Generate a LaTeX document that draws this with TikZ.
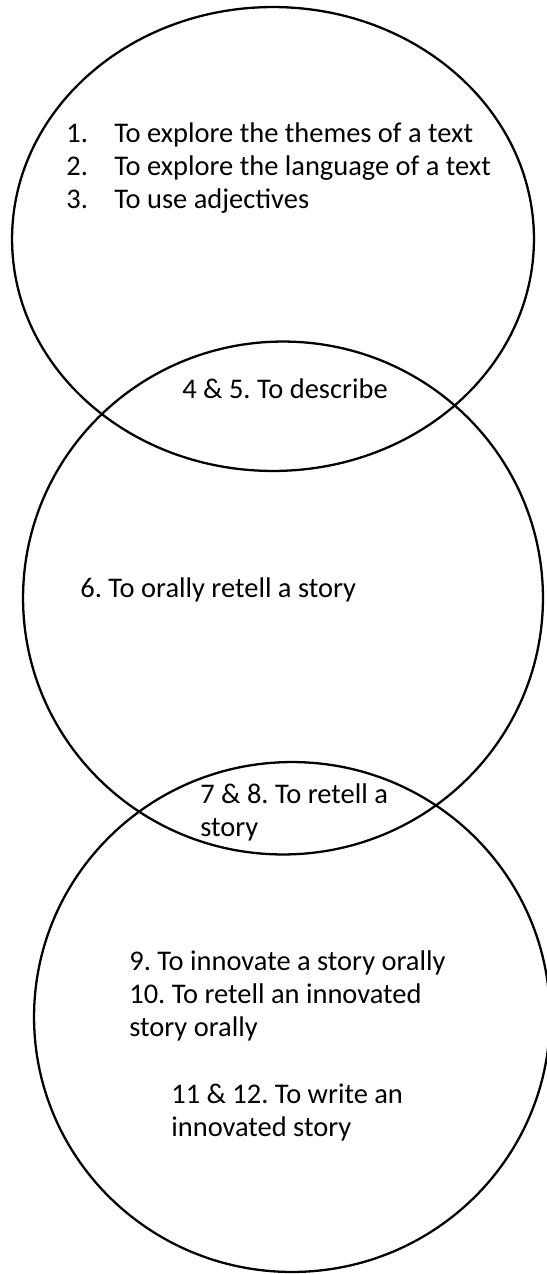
\documentclass[tikz,border=0pt]{standalone}
\usepackage{fontspec}
\setmainfont{Carlito}
\usetikzlibrary{shapes.geometric,positioning}
\frenchspacing

\begin{document}
\begin{tikzpicture}[
    x=0.02cm, y=-0.02cm,
    ring/.style={ellipse, draw, line width=1.3pt, inner sep=0pt},
    goal/.style={anchor=base west, inner sep=0pt, font=\fontsize{16.2}{18.8}\selectfont}
]
\useasboundingbox (0,0) rectangle (547,1274);

% Circles
\node[ring, minimum width=10.44cm, minimum height=9.28cm] (top) at (273,239) {};
\node[ring, minimum width=10.40cm, minimum height=10.26cm] (middle) at (283,598) {};
\node[ring, minimum width=10.32cm, minimum height=10.20cm] (bottom) at (292,1017) {};

% Top circle
\node[goal] (list) at (66,142) {%
    \begin{tabular}[t]{@{}p{0.96cm}@{}l@{}}
    1. & To explore the themes of a text\\
    2. & To explore the language of a text\\
    3. & To use adjectives
    \end{tabular}};

% Overlaps and middle circle
\node[goal] (describe) at (182,398) {4 \& 5. To describe};
\node[goal] (orally) at (80,597) {6. To orally retell a story};
\node[goal] (retell) at (200,803) {%
    \begin{tabular}[t]{@{}l@{}}
    7 \& 8. To retell a\\
    story
    \end{tabular}};

% Bottom circle
\node[goal] (innovate) at (129,970) {%
    \begin{tabular}[t]{@{}l@{}}
    9. To innovate a story orally\\
    10. To retell an innovated\\
    story orally
    \end{tabular}};
\node[goal] (write) at (171,1103) {%
    \begin{tabular}[t]{@{}l@{}}
    11 \& 12. To write an\\
    innovated story
    \end{tabular}};

\end{tikzpicture}
\end{document}
